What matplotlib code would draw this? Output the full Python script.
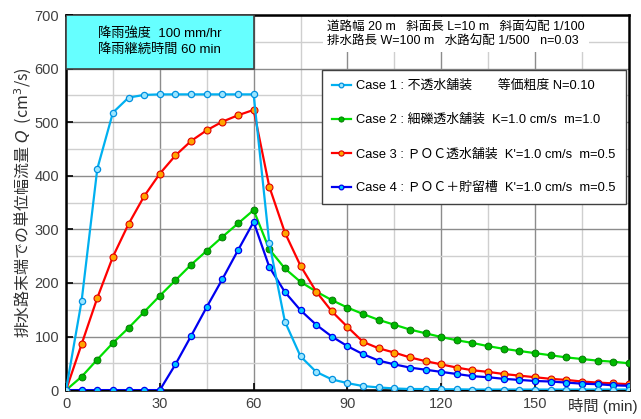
import numpy as np
import matplotlib.pyplot as plt
from matplotlib.patches import Rectangle

plt.rcParams['font.family'] = ['Liberation Sans', 'Noto Sans CJK JP']

t = list(range(0, 181, 5))

case1 = [0, 167, 413, 518, 546, 551, 552, 552, 552, 552, 552, 552, 552,
         275, 128, 63, 34, 20, 13, 7.5, 5, 3, 2, 2, 1.5, 1.5, 1, 1, 1, 1,
         1, 1, 1, 1, 1, 1, 1]
case2 = [0, 25, 57, 88, 116, 146, 176, 205, 234, 260, 286, 311, 336,
         263, 227, 202, 184, 168, 154, 142, 131, 122, 113, 106, 99, 93,
         88, 82, 77, 73, 69, 65, 61, 58, 55, 53, 50]
case3 = [0, 86, 172, 249, 310, 362, 404, 438, 465, 485, 501, 513, 523,
         380, 294, 232, 184, 147, 118, 90, 78, 70, 61, 54, 48, 42, 37, 34,
         30, 27, 24, 21, 19, 16, 14, 12.5, 11]
case4 = [0, 0, 0, 0, 0, 0, 0, 48, 101, 155, 207, 261, 314,
         230, 183, 149, 122, 100, 82, 67, 55, 48, 42, 38, 34, 30, 26, 24,
         21, 19, 17, 16, 14, 12, 11, 9, 8]

labels = ["Case 1 : 不透水舗装　　等価粗度 N=0.10",
          "Case 2 : 細礫透水舗装  K=1.0 cm/s  m=1.0",
          "Case 3 : ＰＯＣ透水舗装  K'=1.0 cm/s  m=0.5",
          "Case 4 : ＰＯＣ＋貯留槽  K'=1.0 cm/s  m=0.5"]

fig = plt.figure(figsize=(6.41, 4.19), dpi=100)
ax = fig.add_axes([0.103, 0.069, 0.878, 0.895])

ax.plot(t, case1, color="#00B0F0", lw=1.6, marker="o", ms=4.5,
        mfc="#9BE6FF", mec="#0090E0", mew=0.9, label=labels[0], zorder=5)
ax.plot(t, case2, color="#00E000", lw=1.6, marker="o", ms=5,
        mfc="#00B800", mec="#007000", mew=0.6, label=labels[1], zorder=4)
ax.plot(t, case3, color="#FF0000", lw=1.6, marker="o", ms=5,
        mfc="#FFA500", mec="#E00000", mew=0.8, label=labels[2], zorder=4)
ax.plot(t, case4, color="#0000F0", lw=1.6, marker="o", ms=4.5,
        mfc="#00C8FF", mec="#0000F0", mew=0.9, label=labels[3], zorder=4)

ax.set_xlim(0, 180)
ax.set_ylim(0, 700)
ax.set_xticks([0, 30, 60, 90, 120, 150])
ax.set_xticks(np.arange(15, 180, 30), minor=True)
ax.set_yticks(np.arange(0, 701, 100))
ax.set_yticks(np.arange(50, 700, 100), minor=True)
ax.grid(which="major", color="#8c8c8c", lw=1.0)
ax.grid(which="minor", color="#cfcfcf", lw=1.0)
ax.set_axisbelow(True)
ax.tick_params(which="major", direction="in", length=5, width=1.2,
               labelsize=10.5, labelcolor="#404040", pad=5)
ax.tick_params(which="minor", length=0)
for s in ax.spines.values():
    s.set_linewidth(1.8)
    s.set_color("black")

ax.set_ylabel("排水路末端での単位幅流量 $Q$  (cm$^3$/s)", fontsize=11.5,
              fontfamily="Noto Sans CJK JP", color="#303030", labelpad=0)
fig.text(0.995, 0.012, "時間 (min)", ha="right", va="bottom", fontsize=11,
         color="#303030")

ax.add_patch(Rectangle((0, 600), 60, 100, facecolor="#66FFFF",
                       edgecolor="#404040", lw=1.2, zorder=6))
ax.text(30, 650, "降雨強度  100 mm/hr\n降雨継続時間 60 min", ha="center",
        va="center", fontsize=9.5, linespacing=1.35, zorder=7)

ax.text(0.464, 0.985, "道路幅 20 m   斜面長 L=10 m   斜面勾配 1/100\n"
        "排水路長 W=100 m   水路勾配 1/500   n=0.03",
        transform=ax.transAxes, ha="left", va="top", fontsize=9,
        linespacing=1.3, zorder=7,
        bbox=dict(facecolor="white", edgecolor="none", pad=3))

leg = ax.legend(loc="upper left", bbox_to_anchor=(0.455, 0.853),
                borderaxespad=0, fontsize=9.3, frameon=True, fancybox=False,
                shadow=False, handlelength=1.5, handletextpad=0.4,
                labelspacing=1.7, borderpad=0.75, markerscale=0.75)
leg.get_frame().set_edgecolor("#404040")
leg.get_frame().set_linewidth(1.0)
leg.get_frame().set_alpha(1)
leg.set_zorder(8)

fig.savefig("out.png", dpi=100)
